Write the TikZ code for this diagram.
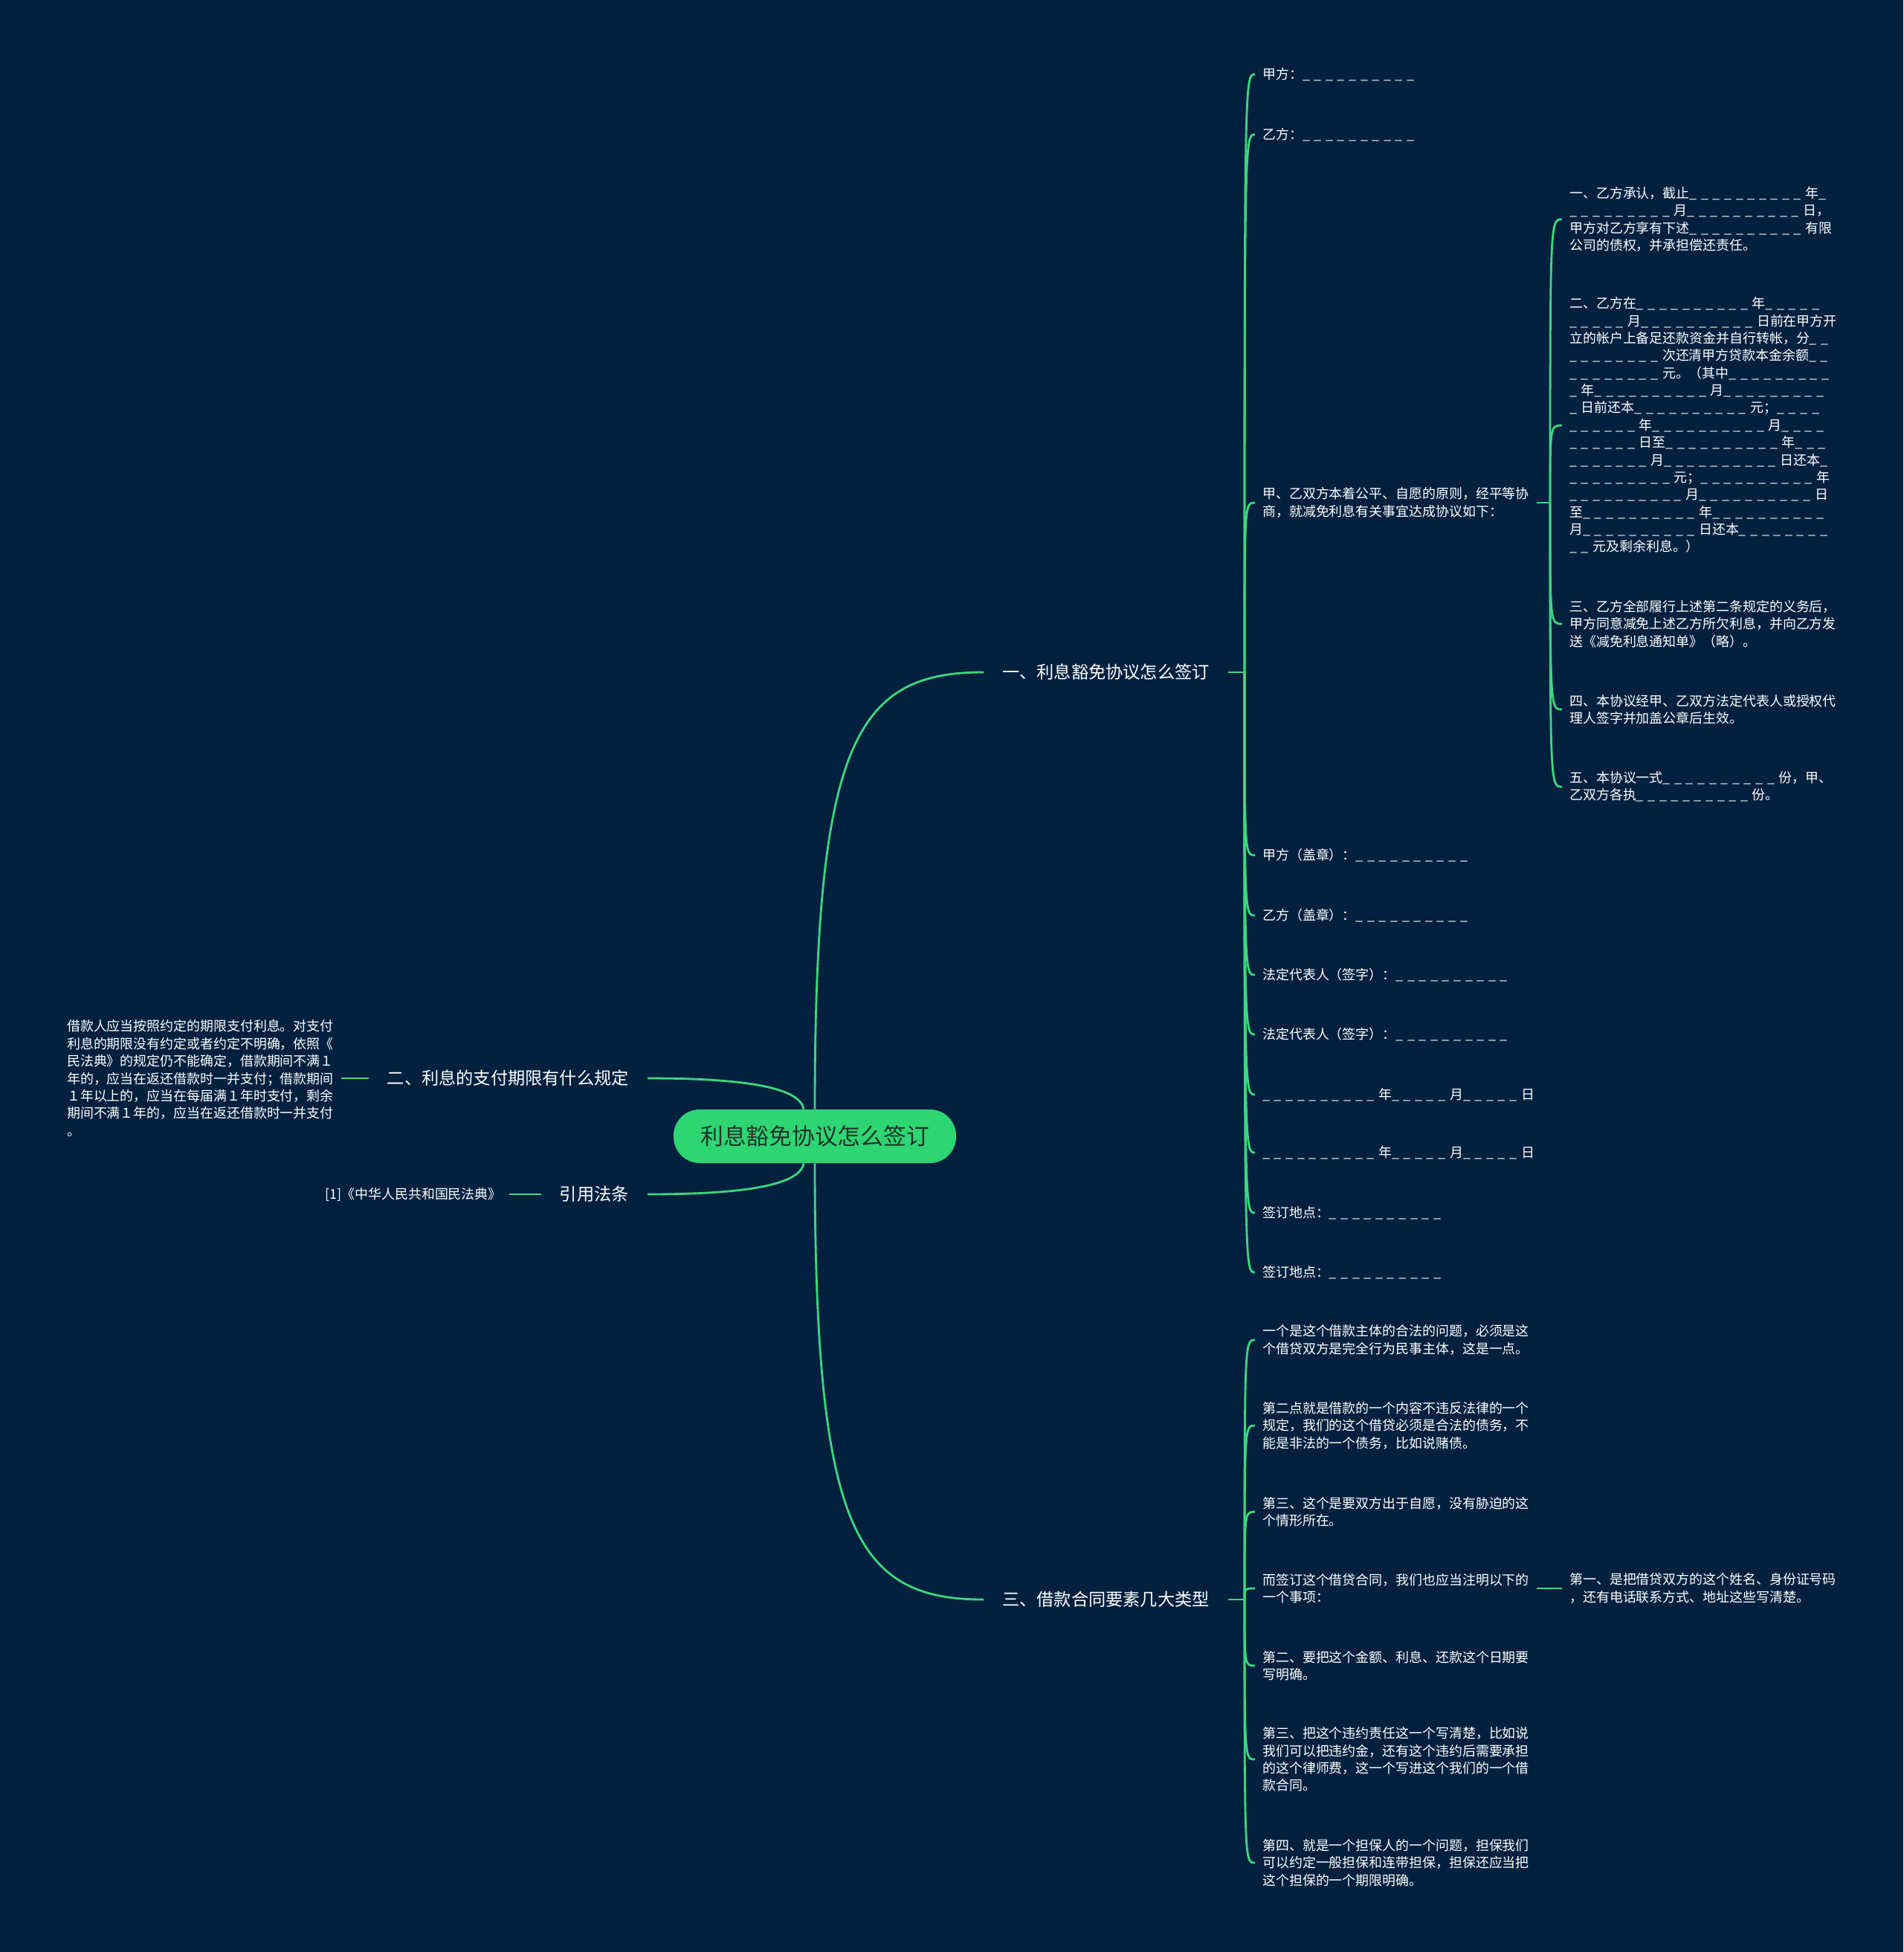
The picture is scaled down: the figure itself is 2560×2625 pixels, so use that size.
\documentclass[tikz,border=0pt]{standalone}
\usepackage{fontspec}
\setmainfont{Noto Sans CJK SC}
\usepackage{tikz}
\usetikzlibrary{calc}
\definecolor{mapbg}{HTML}{03213F}
\definecolor{mapgreen}{HTML}{3CD77E}
\definecolor{rootfill}{HTML}{2ED573}
\definecolor{rootink}{HTML}{1E3328}
% a row of blanks: _ _ _ ...
\newcommand{\bl}[1]{\foreach \k in {1,...,#1}{\makebox[0.87em][l]{\_}}}

\begin{document}
\begin{tikzpicture}[
    x=0.02cm, y=-0.02cm,
    root/.style={fill=rootfill, text=rootink, rounded corners=0.7cm, minimum width=7.6cm, minimum height=1.44cm, font=\fontsize{17.5}{21}\selectfont},
    branch/.style={text=white, inner xsep=0.5cm, inner ysep=2pt, font=\fontsize{13.2}{16}\selectfont},
    leaf/.style={text=white, align=left, inner xsep=0.2cm, inner ysep=2pt, font=\fontsize{10.2}{13.3}\selectfont},
    link/.style={draw=mapgreen, line width=1.6pt}
]
\fill[mapbg] (0,0) rectangle (2560,2625);
\useasboundingbox (0,0) rectangle (2560,2625);

% centre and main branches
\node[root] (root) at (1096,1528) {利息豁免协议怎么签订};
\node[branch, anchor=west] (sign) at (1323,904) {一、利息豁免协议怎么签订};
\node[branch, anchor=east] (term) at (871,1450) {二、利息的支付期限有什么规定};
\node[branch, anchor=east] (law) at (871,1606) {引用法条};
\node[branch, anchor=west] (types) at (1323,2151) {三、借款合同要素几大类型};

\draw[link] (root.north) .. controls (1096,1000) and (1150,904) .. (sign.west);
\draw[link] (root.south) .. controls (1096,2055) and (1150,2151) .. (types.west);
\draw[link] (term.east) .. controls (1000,1450) and (1076,1462) .. ([xshift=-0.3cm]root.north);
\draw[link] (law.east) .. controls (1000,1606) and (1076,1594) .. ([xshift=-0.3cm]root.south);

% left side
\node[leaf, anchor=east] (termtxt) at (459,1450) {借款人应当按照约定的期限支付利息。对支付\\利息的期限没有约定或者约定不明确，依照《\\民法典》的规定仍不能确定，借款期间不满１\\年的，应当在返还借款时一并支付；借款期间\\１年以上的，应当在每届满１年时支付，剩余\\期间不满１年的，应当在返还借款时一并支付\\。};
\node[leaf, anchor=east] (lawref) at (685,1606) {[1]《中华人民共和国民法典》};
\draw[link] (term.west) -- (termtxt.east);
\draw[link] (law.west) -- (lawref.east);

% branch one
\node[leaf, anchor=west] (s1) at (1688,100) {甲方：\bl{10}};
\node[leaf, anchor=west] (s2) at (1688,181) {乙方：\bl{10}};
\node[leaf, anchor=west] (s3) at (1688,676) {甲、乙双方本着公平、自愿的原则，经平等协\\商，就减免利息有关事宜达成协议如下：};
\node[leaf, anchor=west] (s4) at (1688,1150) {甲方（盖章）：\bl{10}};
\node[leaf, anchor=west] (s5) at (1688,1231) {乙方（盖章）：\bl{10}};
\node[leaf, anchor=west] (s6) at (1688,1311) {法定代表人（签字）：\bl{10}};
\node[leaf, anchor=west] (s7) at (1688,1391) {法定代表人（签字）：\bl{10}};
\node[leaf, anchor=west] (s8) at (1688,1472) {\bl{10}年\bl{5}月\bl{5}日};
\node[leaf, anchor=west] (s9) at (1688,1550) {\bl{10}年\bl{5}月\bl{5}日};
\node[leaf, anchor=west] (s10) at (1688,1631) {签订地点：\bl{10}};
\node[leaf, anchor=west] (s11) at (1688,1711) {签订地点：\bl{10}};

\coordinate (fk1) at (1674,904);
\draw[link] (sign.east) -- (fk1);
\foreach \c in {s1,s2,s3,s4,s5,s6,s7,s8,s9,s10,s11}
  \draw[link] (fk1) .. controls (fk1 |- \c.west) and (fk1 |- \c.west) .. (\c.west);

% clauses under s3
\node[leaf, anchor=west] (g1) at (2101,295) {一、乙方承认，截止\bl{10}年\bl{1}\\\bl{9}月\bl{10}日，\\甲方对乙方享有下述\bl{10}有限\\公司的债权，并承担偿还责任。};
\node[leaf, anchor=west] (g2) at (2101,572) {二、乙方在\bl{10}年\bl{5}\\\bl{5}月\bl{10}日前在甲方开\\立的帐户上备足还款资金并自行转帐，分\bl{2}\\\bl{8}次还清甲方贷款本金余额\bl{2}\\\bl{8}元。（其中\bl{9}\\\bl{1}年\bl{10}月\bl{9}\\\bl{1}日前还本\bl{10}元；\bl{4}\\\bl{6}年\bl{10}月\bl{4}\\\bl{6}日至\bl{10}年\bl{3}\\\bl{7}月\bl{10}日还本\bl{1}\\\bl{9}元；\bl{10}年\\\bl{10}月\bl{10}日\\至\bl{10}年\bl{10}\\月\bl{10}日还本\bl{8}\\\bl{2}元及剩余利息。）};
\node[leaf, anchor=west] (g3) at (2101,839) {三、乙方全部履行上述第二条规定的义务后，\\甲方同意减免上述乙方所欠利息，并向乙方发\\送《减免利息通知单》（略）。};
\node[leaf, anchor=west] (g4) at (2101,954) {四、本协议经甲、乙双方法定代表人或授权代\\理人签字并加盖公章后生效。};
\node[leaf, anchor=west] (g5) at (2101,1058) {五、本协议一式\bl{10}份，甲、\\乙双方各执\bl{10}份。};

\coordinate (fk2) at (2085,676);
\draw[link] (s3.east) -- (fk2);
\foreach \c in {g1,g2,g3,g4,g5}
  \draw[link] (fk2) .. controls (fk2 |- \c.west) and (fk2 |- \c.west) .. (\c.west);

% branch three
\node[leaf, anchor=west] (t1) at (1688,1802) {一个是这个借款主体的合法的问题，必须是这\\个借贷双方是完全行为民事主体，这是一点。};
\node[leaf, anchor=west] (t2) at (1688,1917) {第二点就是借款的一个内容不违反法律的一个\\规定，我们的这个借贷必须是合法的债务，不\\能是非法的一个债务，比如说赌债。};
\node[leaf, anchor=west] (t3) at (1688,2033) {第三、这个是要双方出于自愿，没有胁迫的这\\个情形所在。};
\node[leaf, anchor=west] (t4) at (1688,2136) {而签订这个借贷合同，我们也应当注明以下的\\一个事项：};
\node[leaf, anchor=west] (t5) at (1688,2240) {第二、要把这个金额、利息、还款这个日期要\\写明确。};
\node[leaf, anchor=west] (t6) at (1688,2366) {第三、把这个违约责任这一个写清楚，比如说\\我们可以把违约金，还有这个违约后需要承担\\的这个律师费，这一个写进这个我们的一个借\\款合同。};
\node[leaf, anchor=west] (t7) at (1688,2505) {第四、就是一个担保人的一个问题，担保我们\\可以约定一般担保和连带担保，担保还应当把\\这个担保的一个期限明确。};
\node[leaf, anchor=west] (t4a) at (2101,2136) {第一、是把借贷双方的这个姓名、身份证号码\\，还有电话联系方式、地址这些写清楚。};

\coordinate (fk3) at (1674,2151);
\draw[link] (types.east) -- (fk3);
\foreach \c in {t1,t2,t3,t4,t5,t6,t7}
  \draw[link] (fk3) .. controls (fk3 |- \c.west) and (fk3 |- \c.west) .. (\c.west);
\draw[link] (t4.east) -- (t4a.west);
\end{tikzpicture}
\end{document}
